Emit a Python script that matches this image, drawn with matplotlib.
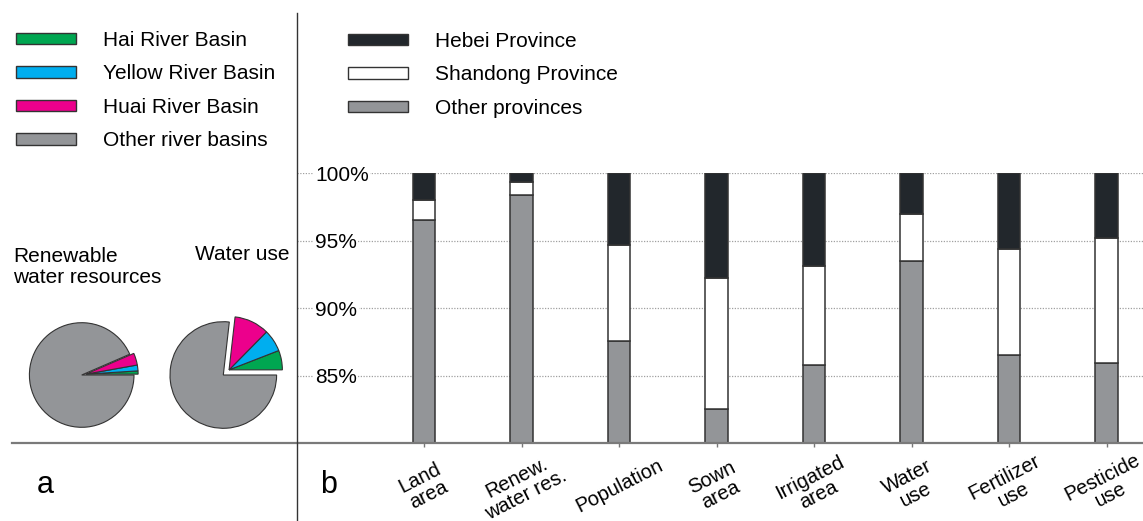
import matplotlib
matplotlib.use("Agg")
import matplotlib.pyplot as plt
from matplotlib.patches import Patch
from matplotlib.lines import Line2D
import numpy as np

plt.rcParams["font.family"] = ["Liberation Sans", "DejaVu Sans"]

# ---------------- data ----------------
categories = ["Land\narea", "Renew.\nwater res.", "Population", "Sown\narea",
              "Irrigated\narea", "Water\nuse", "Fertilizer\nuse", "Pesticide\nuse"]
other_prov = [96.5, 98.4, 87.6, 82.55, 85.8, 93.5, 86.5, 85.9]
shandong = [1.5, 0.95, 7.1, 9.7, 7.35, 3.45, 7.9, 9.3]
hebei = [2.0, 0.65, 5.3, 7.75, 6.85, 3.05, 5.6, 4.8]
ytick_vals = [85, 90, 95, 100]
ytick_labels = ["85%", "90%", "95%", "100%"]

basin_names = ["Hai River Basin", "Yellow River Basin", "Huai River Basin", "Other river basins"]
renew_basins = [1.0, 1.8, 3.7, 93.5]     # Hai, Yellow, Huai, Other (%)
wateruse_basins = [5.9, 6.7, 10.6, 76.8]  # Hai, Yellow, Huai, Other (%)

province_names = ["Hebei Province", "Shandong Province", "Other provinces"]

# ---------------- style ----------------
C_HAI = "#00a651"
C_YEL = "#00aeef"
C_HUAI = "#ec008c"
C_GREY = "#939598"
C_BLACK = "#22272c"
EDGE = "#333333"
FS = 15
FS_CAT = 14.5

W, H = 1143, 521
fig = plt.figure(figsize=(W / 100, H / 100), dpi=100)
fig.patch.set_facecolor("white")


def fx(px):
    return px / W


def fy(py):
    return 1 - py / H


# ---------------- panel b: stacked bars ----------------
ax = fig.add_axes([fx(297), fy(443), 1 - fx(297), (443 - 173.3) / H])
x = np.arange(len(categories))
bw = 0.23
ax.bar(x, other_prov, width=bw, color=C_GREY, edgecolor=EDGE, linewidth=1.1, zorder=2)
ax.bar(x, shandong, bottom=other_prov, width=bw, color="white", edgecolor=EDGE,
       linewidth=1.1, zorder=2)
ax.bar(x, hebei, bottom=np.array(other_prov) + np.array(shandong), width=bw,
       color=C_BLACK, edgecolor=EDGE, linewidth=1.1, zorder=2)
ax.set_ylim(80, 100)
ax.set_xlim(-1.303, 7.374)
for s in ax.spines.values():
    s.set_visible(False)
ax.set_axisbelow(True)
ax.yaxis.grid(True, color="#a0a0a0", linestyle=(0, (1, 1.2)), linewidth=0.9)
ax.set_yticks(ytick_vals)
ax.set_yticklabels(ytick_labels, fontsize=FS)
ax.tick_params(axis="y", length=0, pad=-13)
for lab in ax.get_yticklabels():
    lab.set_horizontalalignment("left")
    lab.set_bbox(dict(facecolor="white", edgecolor="none", pad=1.0))
ax.set_xticks(x)
ax.set_xticklabels(categories, fontsize=FS_CAT, rotation=27, ha="center", va="center",
                   linespacing=1.02)
ax.tick_params(axis="x", direction="out", length=3, width=1, color="#777777", pad=28)

# ---------------- panel a: pies ----------------
def draw_pie(cx, cy, r, vals, explode):
    half = 65
    pax = fig.add_axes([fx(cx - half), fy(cy + half), 2 * half / W, 2 * half / H])
    fr = np.array(vals) / 100.0
    col_sum = fr[:3].sum()
    wp = dict(edgecolor=EDGE, linewidth=0.8)
    pax.pie([fr[3]], colors=[C_GREY], startangle=col_sum * 360, normalize=False,
            wedgeprops=wp)
    mid = np.deg2rad(col_sum * 360 / 2)
    pax.pie(fr[:3], colors=[C_HAI, C_YEL, C_HUAI], startangle=0, normalize=False,
            center=(explode * np.cos(mid), explode * np.sin(mid)), wedgeprops=wp)
    lim = half / r
    pax.set_xlim(-lim, lim)
    pax.set_ylim(-lim, lim)
    pax.set_aspect("equal")
    pax.axis("off")


draw_pie(81.7, 375, 52.3, renew_basins, 0.08)
draw_pie(223.3, 375, 53.3, wateruse_basins, 0.145)

fig.text(fx(13), fy(247), "Renewable\nwater resources", fontsize=FS, ha="left", va="top",
         linespacing=1.1)
fig.text(fx(195), fy(245), "Water use", fontsize=FS, ha="left", va="top")

# ---------------- legends ----------------
leg_kw = dict(loc="upper left", frameon=False, fontsize=FS, handlelength=2.88,
              handleheight=0.48, handletextpad=1.28, labelspacing=0.69,
              borderpad=0, borderaxespad=0)
h1 = [Patch(facecolor=c, edgecolor=EDGE, linewidth=1.0)
      for c in [C_HAI, C_YEL, C_HUAI, C_GREY]]
fig.legend(h1, basin_names, bbox_to_anchor=(fx(16), fy(31)), **leg_kw)
h2 = [Patch(facecolor=c, edgecolor=EDGE, linewidth=1.0)
      for c in [C_BLACK, "white", C_GREY]]
fig.legend(h2, province_names, bbox_to_anchor=(fx(348), fy(32)), **leg_kw)

# ---------------- frame lines and panel letters ----------------
fig.add_artist(Line2D([fx(12), 1.0], [fy(443), fy(443)], color="#7a7a7a", linewidth=1.6))
fig.add_artist(Line2D([fx(297), fx(297)], [fy(13), 0.0], color="#333333", linewidth=1.0))
fig.text(fx(37), fy(493), "a", fontsize=22, ha="left", va="baseline")
fig.text(fx(320), fy(493), "b", fontsize=22, ha="left", va="baseline")

fig.savefig("out.png", dpi=100, facecolor="white")
